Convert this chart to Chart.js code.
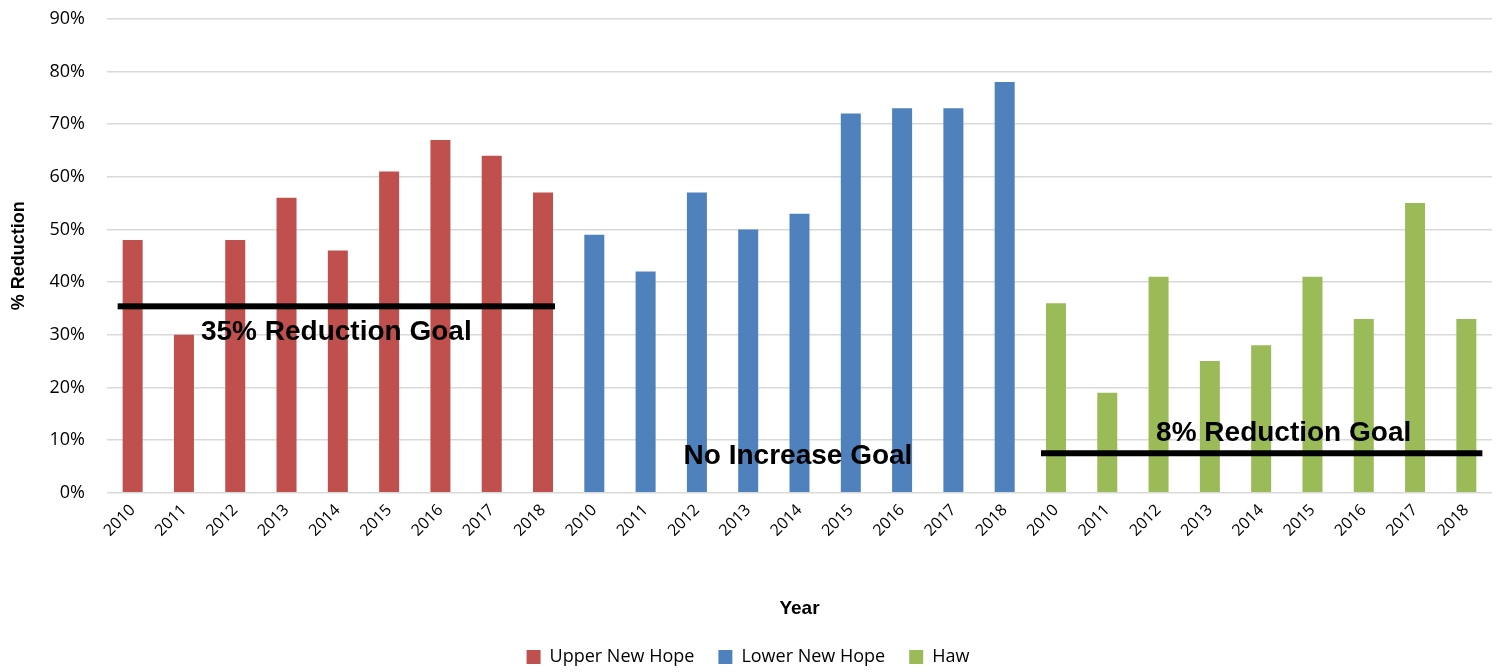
<!DOCTYPE html>
<html>
<head>
<meta charset="utf-8">
<script src="https://cdn.jsdelivr.net/npm/chart.js@4/dist/chart.umd.min.js"></script>
<style>
  html, body { margin: 0; padding: 0; background: #fff; }
  #wrap { width: 1502px; height: 672px; }
</style>
</head>
<body>
<div id="wrap"><canvas id="myChart"></canvas></div>
<script>
let years = ['2010','2011','2012','2013','2014','2015','2016','2017','2018'];
let upperNewHope = [48, 30, 48, 56, 46, 61, 67, 64, 57];
let lowerNewHope = [49, 42, 57, 50, 53, 72, 73, 73, 78];
let haw = [36, 19, 41, 25, 28, 41, 33, 55, 33];
let goalValues = [35.4, null, 7.5];
let goalLabels = ['35% Reduction Goal', 'No Increase Goal', '8% Reduction Goal'];
let goalLabelValues = [30.5, 7, 11.2];

let labels = years.concat(years, years);
let n = years.length;
let pad = new Array(n).fill(null);

// one bar per category, the other two series are empty there
let upperData = upperNewHope.concat(pad, pad);
let lowerData = pad.concat(lowerNewHope, pad);
let hawData = pad.concat(pad, haw);

let goalPlugin = {
    id: 'goals',
    afterDatasetsDraw(chart) {
        let ctx = chart.ctx;
        let x = chart.scales.x;
        let y = chart.scales.y;
        let half = x.width / labels.length * 0.39 / 2;
        ctx.save();
        for (let g = 0; g < 3; g++) {
            let x0 = x.getPixelForValue(g * n) - half - 5;
            let x1 = x.getPixelForValue(g * n + n - 1) + half + 2;
            if (g == 2) x1 = x1 + 4;
            if (goalValues[g] != null) {
                ctx.fillStyle = '#000';
                let py = y.getPixelForValue(goalValues[g]);
                ctx.fillRect(x0, py - 3, x1 - x0, 6);
            }
            ctx.font = 'bold 28px "Liberation Sans", Arial, sans-serif';
            ctx.textAlign = 'center';
            ctx.textBaseline = 'middle';
            ctx.fillStyle = '#000';
            let cx = (x0 + x1) / 2;
            if (g == 2) cx = cx + 22;
            ctx.fillText(goalLabels[g], cx, y.getPixelForValue(goalLabelValues[g]));
        }
        ctx.restore();
    }
};

const config = {
    type: 'bar',
    data: {
        labels: labels,
        datasets: [
            { label: 'Upper New Hope', data: upperData, backgroundColor: '#c0504d' },
            { label: 'Lower New Hope', data: lowerData, backgroundColor: '#4f81bd' },
            { label: 'Haw', data: hawData, backgroundColor: '#9bbb59' }
        ]
    },
    options: {
        responsive: true,
        maintainAspectRatio: false,
        animation: false,
        layout: { padding: { left: 4, right: 10, top: 0, bottom: -4 } },
        datasets: {
            bar: { grouped: false, barPercentage: 0.39, categoryPercentage: 1 }
        },
        scales: {
            x: {
                grid: { display: false },
                border: { display: false },
                ticks: {
                    color: '#000',
                    maxRotation: 45,
                    minRotation: 45,
                    autoSkip: false,
                    padding: 0,
                    font: { family: '"Open Sans", sans-serif', size: 16 }
                },
                title: {
                    display: true,
                    text: 'Year',
                    color: '#000',
                    padding: { top: 57, bottom: 4 },
                    font: { family: '"Liberation Sans", Arial, sans-serif', size: 19, weight: 'bold' }
                }
            },
            y: {
                min: 0,
                max: 90,
                afterFit: function (scale) { scale.width = 103; },
                grid: { color: '#d9d9d9', lineWidth: 1.5, drawTicks: true, tickLength: 14, tickColor: 'rgba(0,0,0,0)' },
                border: { display: false },
                ticks: {
                    stepSize: 10,
                    color: '#000',
                    padding: 8,
                    font: { family: '"Open Sans", sans-serif', size: 18 },
                    callback: function (v) { return v + '%'; }
                },
                title: {
                    display: true,
                    text: '% Reduction',
                    color: '#000',
                    padding: { bottom: 0 },
                    font: { family: '"Liberation Sans", Arial, sans-serif', size: 18, weight: 'bold' }
                }
            }
        },
        plugins: {
            legend: {
                position: 'bottom',
                labels: {
                    color: '#000',
                    boxWidth: 14,
                    boxHeight: 14,
                    padding: 24,
                    font: { family: '"Open Sans", sans-serif', size: 18 }
                }
            },
            tooltip: { enabled: false }
        }
    },
    plugins: [goalPlugin]
};

myChart = new Chart(document.getElementById('myChart'), config);
</script>
</body>
</html>
